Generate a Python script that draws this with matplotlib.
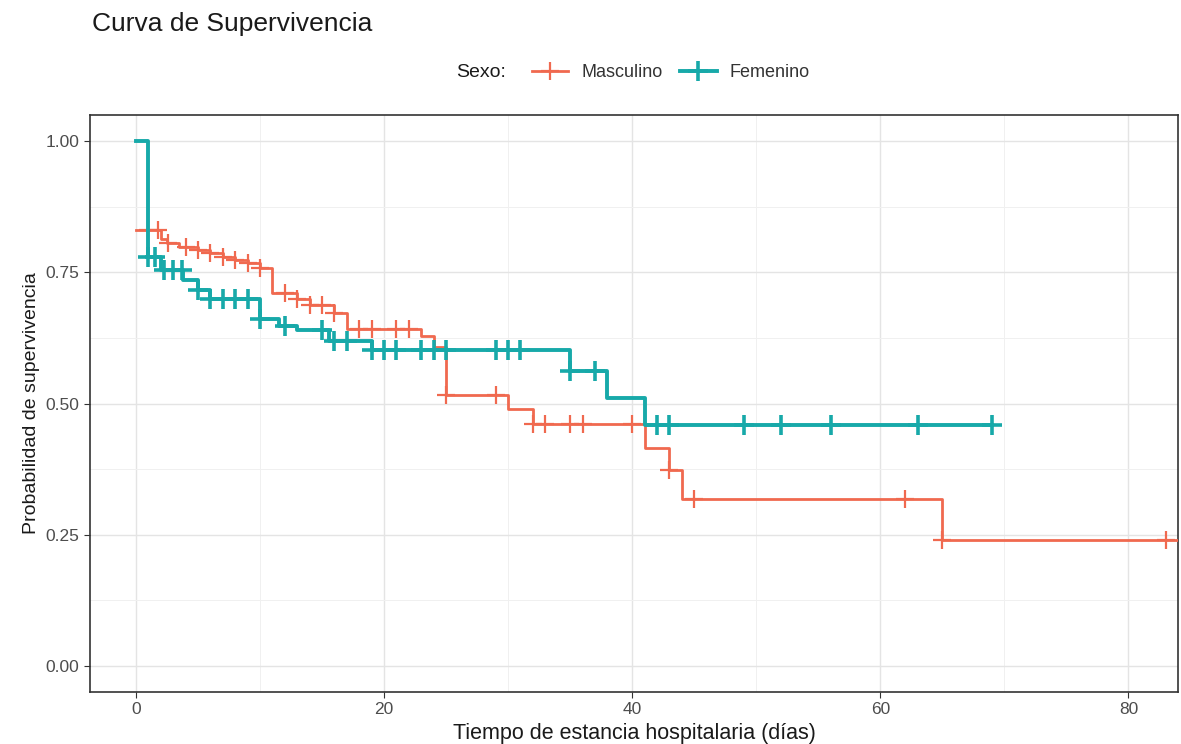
import numpy as np
import matplotlib
matplotlib.use("Agg")
import matplotlib.pyplot as plt
from matplotlib.lines import Line2D

plt.rcParams['font.family'] = ['Liberation Sans', 'DejaVu Sans']

# curvas Kaplan-Meier (tiempo, supervivencia)
masc_t = [0, 2, 2.5, 3.5, 5, 6, 7, 8, 9, 10, 11, 13, 14, 16, 17, 23, 24, 25, 30, 32, 41, 43, 44, 65, 84]
masc_s = [0.83, 0.814, 0.806, 0.799, 0.792, 0.786, 0.780, 0.773, 0.767, 0.759, 0.71, 0.699, 0.688,
          0.672, 0.643, 0.628, 0.607, 0.516, 0.489, 0.46, 0.416, 0.373, 0.317, 0.239, 0.239]
masc_cens = [1, 1.8, 2.6, 4, 5, 6, 7, 8, 9, 10, 12, 13, 14, 15, 16, 18, 19, 21, 22, 25, 29,
             32, 33, 35, 36, 40, 43, 45, 62, 65, 83]

fem_t = [0, 1, 2, 3.8, 5, 6, 10, 11.5, 13, 15.6, 19, 35, 38, 41, 69]
fem_s = [1.0, 0.78, 0.754, 0.735, 0.716, 0.70, 0.662, 0.647, 0.64, 0.619, 0.602, 0.562, 0.511, 0.459, 0.459]
fem_cens = [1, 1.5, 2.3, 3, 3.7, 5, 6, 7, 8, 9, 10, 12, 15, 16, 17, 19, 20, 21, 23, 24, 25,
            29, 30, 31, 35, 37, 42, 43, 49, 52, 56, 63, 69]

col_m = '#F0694F'
col_f = '#17A9A9'


def surv_at(t, tiempos, surv):
    idx = np.searchsorted(tiempos, t, side='right') - 1
    return np.array(surv)[idx]


fig = plt.figure(figsize=(11.81, 7.44), dpi=100)
ax = fig.add_axes([0.0762, 0.0699, 0.9213, 0.7755])

ax.step(masc_t, masc_s, where='post', color=col_m, lw=2.0, zorder=3)
ax.plot(masc_cens, surv_at(masc_cens, masc_t, masc_s), ls='none', marker='+',
        ms=13, mew=1.6, color=col_m, zorder=3)
ax.step(fem_t, fem_s, where='post', color=col_f, lw=2.8, zorder=4)
ax.plot(fem_cens, surv_at(fem_cens, fem_t, fem_s), ls='none', marker='+',
        ms=14, mew=2.6, color=col_f, zorder=4)

ax.set_xlim(-3.7, 84)
ax.set_ylim(-0.05, 1.05)
ax.set_xticks([0, 20, 40, 60, 80])
ax.set_xticks([10, 30, 50, 70], minor=True)
ax.set_yticks([0, 0.25, 0.5, 0.75, 1.0])
ax.set_yticklabels(['0.00', '0.25', '0.50', '0.75', '1.00'])
ax.set_yticks([0.125, 0.375, 0.625, 0.875], minor=True)
ax.grid(which='major', color='#E4E4E4', lw=1.0)
ax.grid(which='minor', color='#F0F0F0', lw=0.7)
ax.set_axisbelow(True)
for s in ax.spines.values():
    s.set_color('#333333')
    s.set_linewidth(1.2)
ax.tick_params(which='major', length=4, color='#333333', labelsize=12.5, labelcolor='#4D4D4D')
ax.tick_params(which='minor', length=0)

ax.set_xlabel('Tiempo de estancia hospitalaria (días)', fontsize=15.5, labelpad=4, color='#1A1A1A')
ax.set_ylabel('Probabilidad de supervivencia', fontsize=14, labelpad=4, color='#1A1A1A')

fig.text(0.078, 0.968, 'Curva de Supervivencia', fontsize=19, va='center', ha='left', color='#1A1A1A')
fig.text(0.386, 0.902, 'Sexo:', fontsize=14, va='center', ha='left', color='#1A1A1A')
handles = [Line2D([], [], color=col_m, lw=2.0, marker='+', ms=13, mew=1.6),
           Line2D([], [], color=col_f, lw=2.8, marker='+', ms=14, mew=2.6)]
fig.legend(handles, ['Masculino', 'Femenino'], ncol=2, loc='center',
           bbox_to_anchor=(0.568, 0.902), frameon=False, fontsize=13,
           handlelength=2.0, columnspacing=1.0, handletextpad=0.7, labelcolor='#333333')

fig.savefig('out.png', dpi=100)
